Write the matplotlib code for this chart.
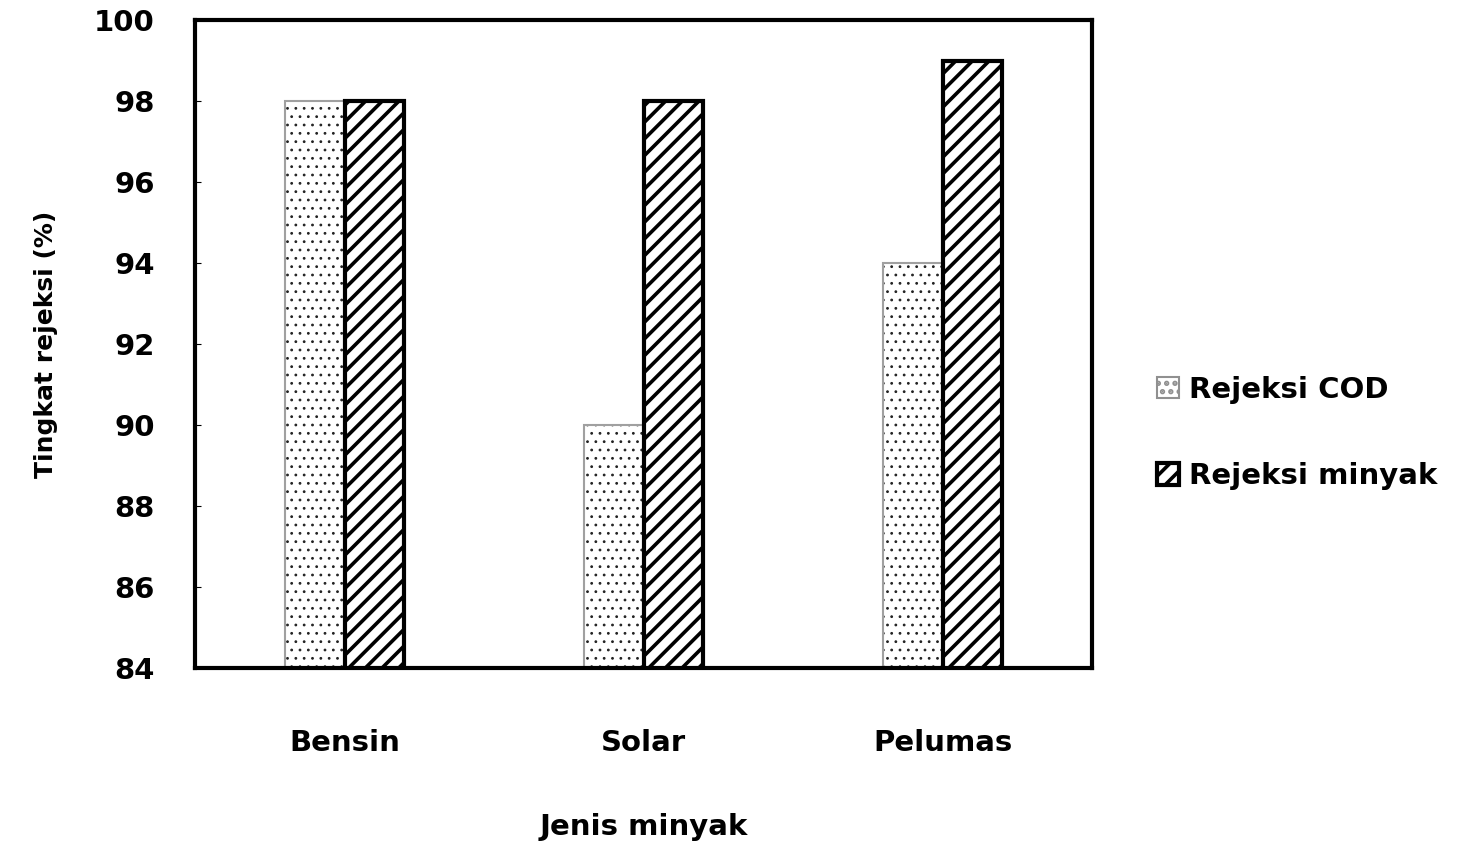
import numpy as np
import matplotlib
matplotlib.use("Agg")
from matplotlib import pyplot as plt

# data
kategori = ["Bensin", "Solar", "Pelumas"]
rejeksi_cod = [98, 90, 94]
rejeksi_minyak = [98, 98, 99]
yticks = [84, 86, 88, 90, 92, 94, 96, 98, 100]

plt.rcParams['font.family'] = ['DejaVu Sans']
plt.rcParams['font.weight'] = 'bold'

fig = plt.figure(figsize=(14.59, 8.49), dpi=100)
ax = fig.add_axes([0.1337, 0.2132, 0.6148, 0.7632])

x = np.arange(len(kategori))
w = 0.2

def hatch_lw(patches, lw):
    for p in patches:
        if hasattr(p, 'set_hatch_linewidth'):
            p.set_hatch_linewidth(lw)

# titik hitam di dalam, tepi abu-abu
plt.rcParams['hatch.linewidth'] = 0.8
dots = ax.bar(x - w / 2, rejeksi_cod, w, color='white', edgecolor='#222222',
              hatch='..', linewidth=0)
hatch_lw(dots, 0.8)
ax.bar(x - w / 2, rejeksi_cod, w, fill=False, edgecolor='#a0a0a0', linewidth=1.5)
b1_leg = plt.Rectangle((0, 0), 1, 1, facecolor='white', edgecolor='#909090',
                       hatch='..', linewidth=1.5)
hatch_lw([b1_leg], 0.8)

plt.rcParams['hatch.linewidth'] = 2.6
b2 = ax.bar(x + w / 2, rejeksi_minyak, w, color='white', edgecolor='black',
            hatch='//', linewidth=3, label='Rejeksi minyak')
hatch_lw(b2, 2.6)

ax.set_ylim(84, 100)
ax.set_xlim(-0.5, 2.5)
ax.set_yticks(yticks)
ax.set_xticks(x)
ax.set_xticklabels(kategori, fontsize=21, fontweight='bold')
ax.set_yticklabels([str(v) for v in yticks], fontsize=21, fontweight='bold')
ax.tick_params(axis='y', direction='in', length=4, pad=29)
ax.tick_params(axis='x', length=0, pad=44)
for s in ax.spines.values():
    s.set_linewidth(3)

ax.set_ylabel("Tingkat rejeksi (%)", fontsize=18, fontweight='bold', labelpad=26)
ax.set_xlabel("Jenis minyak", fontsize=21, fontweight='bold', labelpad=40)

fig.legend(handles=[b1_leg, b2], labels=['Rejeksi COD', 'Rejeksi minyak'],
           loc='center left', bbox_to_anchor=(0.775, 0.49),
           frameon=False, handlelength=0.75, handleheight=0.75,
           handletextpad=0.35, labelspacing=2.0, prop={'weight': 'bold', 'size': 21})

fig.savefig("out.png", dpi=100)
